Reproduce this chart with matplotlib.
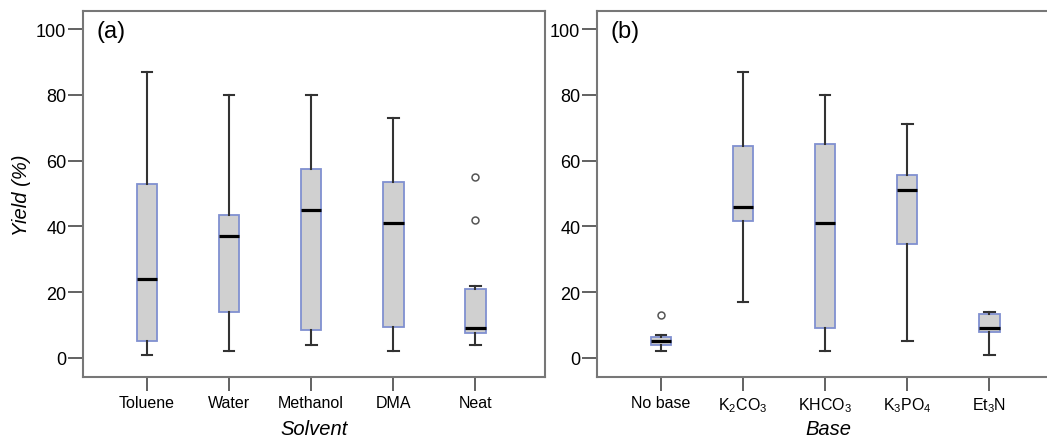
import numpy as np
import matplotlib.pyplot as plt

plt.rcParams['font.family'] = ['Liberation Sans', 'DejaVu Sans']
plt.rcParams['mathtext.default'] = 'regular'

# solvent panel (a)
solvents = ['Toluene', 'Water', 'Methanol', 'DMA', 'Neat']
sol_whislo = [1, 2, 4, 2, 4]
sol_q1 = [5, 14, 8.5, 9.5, 7.5]
sol_med = [24, 37, 45, 41, 9]
sol_q3 = [53, 43.5, 57.5, 53.5, 21]
sol_whishi = [87, 80, 80, 73, 22]
sol_fliers = [[], [], [], [], [55, 42]]

# base panel (b)
bases = ['No base', r'K$_2$CO$_3$', r'KHCO$_3$', r'K$_3$PO$_4$', r'Et$_3$N']
base_whislo = [2, 17, 2, 5, 1]
base_q1 = [4, 41.5, 9, 34.5, 8]
base_med = [5, 46, 41, 51, 9]
base_q3 = [6.5, 64.5, 65, 55.5, 13.5]
base_whishi = [7, 87, 80, 71, 14]
base_fliers = [[13], [], [], [], []]


def make_stats(lo, q1, med, q3, hi, fl):
    stats = []
    for i in range(len(lo)):
        stats.append({'whislo': lo[i], 'q1': q1[i], 'med': med[i],
                      'q3': q3[i], 'whishi': hi[i], 'fliers': fl[i]})
    return stats


def draw_panel(ax, stats, labels, xlabel, tag, show_ylabel):
    pos = np.arange(1, len(labels) + 1)
    ax.bxp(stats, positions=pos, widths=0.25, patch_artist=True,
           showfliers=True, capwidths=0.13,
           boxprops=dict(facecolor='#d0d0d0', edgecolor='#8090d0', linewidth=1.3),
           medianprops=dict(color='black', linewidth=2.3),
           whiskerprops=dict(color='#333333', linewidth=1.5),
           capprops=dict(color='#333333', linewidth=1.5),
           flierprops=dict(marker='o', markersize=5, markerfacecolor='white',
                           markeredgecolor='#555555', markeredgewidth=1.1))
    ax.set_xlim(0.22, 5.85)
    ax.set_ylim(-5.8, 105.5)
    ax.set_yticks([0, 20, 40, 60, 80, 100])
    ax.set_xticks(pos)
    ax.set_xticklabels(labels, fontsize=11.5)
    ax.tick_params(axis='y', labelsize=13, length=11, width=1.3, color='#555555', pad=1)
    ax.tick_params(axis='x', length=10, width=1.3, color='#555555', pad=3)
    for s in ax.spines.values():
        s.set_color('#777777')
        s.set_linewidth(1.5)
    ax.set_xlabel(xlabel, fontsize=14.5, style='italic')
    ax.xaxis.set_label_coords(0.5, -0.115)
    if show_ylabel:
        ax.set_ylabel('Yield (%)', fontsize=14.5, style='italic', labelpad=4)
    ax.text(0.03, 0.975, tag, transform=ax.transAxes, fontsize=17, va='top', ha='left')


fig = plt.figure(figsize=(10.47, 4.39), dpi=100)
ax1 = fig.add_axes([0.0793, 0.139, 0.4413, 0.8337])
ax2 = fig.add_axes([0.5702, 0.139, 0.4413, 0.8337])

draw_panel(ax1, make_stats(sol_whislo, sol_q1, sol_med, sol_q3, sol_whishi, sol_fliers),
           solvents, 'Solvent', '(a)', True)
draw_panel(ax2, make_stats(base_whislo, base_q1, base_med, base_q3, base_whishi, base_fliers),
           bases, 'Base', '(b)', False)

fig.savefig('out.png', dpi=100)
